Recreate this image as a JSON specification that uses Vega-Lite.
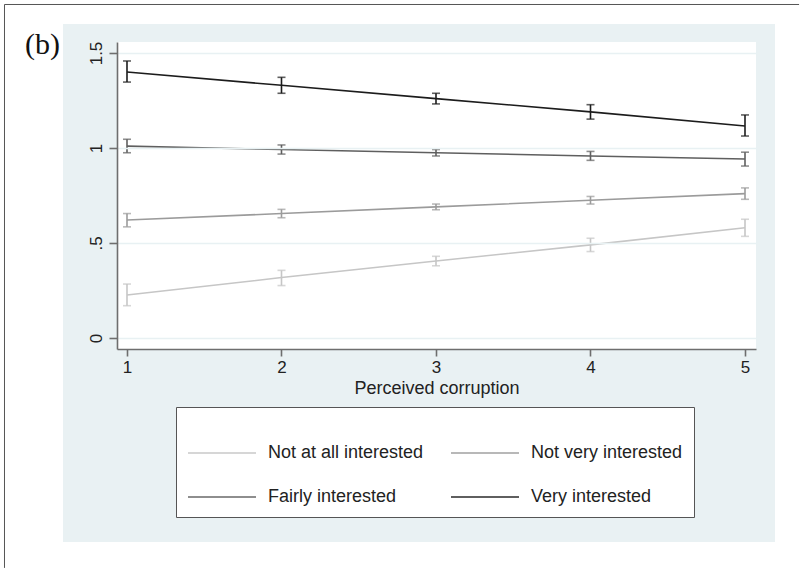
{
  "$schema": "https://vega.github.io/schema/vega-lite/v6.json",
  "width": 639,
  "height": 307,
  "autosize": {"type": "none"},
  "padding": {"left": 117, "top": 42, "right": 44, "bottom": 219},
  "background": "white",
  "title": {"text": "(b)", "font": "Liberation Serif", "fontSize": 30, "fontWeight": "normal", "anchor": "start", "frame": "group", "orient": "top", "offset": 0, "baseline": "alphabetic", "dx": -92, "dy": 80, "color": "#111111"},
  "config": {
    "view": {"stroke": null},
    "font": "Liberation Sans",
    "axis": {"domainColor": "#6e6e6e", "domainWidth": 1.6, "tickColor": "#6e6e6e", "tickWidth": 1.6, "labelFont": "Liberation Sans", "labelFontSize": 17, "labelColor": "#222222", "titleFont": "Liberation Sans", "titleFontSize": 18, "titleFontWeight": "normal", "titleColor": "#222222"},
    "axisX": {"grid": false, "tickSize": 7, "labelPadding": 3, "titlePadding": 4, "labelFlush": false},
    "axisY": {"grid": true, "gridColor": "#e8f1f3", "gridWidth": 1.5, "tickSize": 8, "labelAngle": -90, "labelAlign": "center", "labelBaseline": "bottom", "labelPadding": 4}
  },
  "data": {"values": [
    {"series": "Not at all interested", "x": 1, "y": 0.226, "lo": 0.170, "hi": 0.284},
    {"series": "Not at all interested", "x": 2, "y": 0.318, "lo": 0.276, "hi": 0.356},
    {"series": "Not at all interested", "x": 3, "y": 0.405, "lo": 0.380, "hi": 0.430},
    {"series": "Not at all interested", "x": 4, "y": 0.490, "lo": 0.455, "hi": 0.525},
    {"series": "Not at all interested", "x": 5, "y": 0.580, "lo": 0.535, "hi": 0.625},
    {"series": "Not very interested", "x": 1, "y": 0.621, "lo": 0.585, "hi": 0.655},
    {"series": "Not very interested", "x": 2, "y": 0.655, "lo": 0.633, "hi": 0.677},
    {"series": "Not very interested", "x": 3, "y": 0.690, "lo": 0.675, "hi": 0.705},
    {"series": "Not very interested", "x": 4, "y": 0.725, "lo": 0.705, "hi": 0.745},
    {"series": "Not very interested", "x": 5, "y": 0.760, "lo": 0.730, "hi": 0.790},
    {"series": "Fairly interested", "x": 1, "y": 1.010, "lo": 0.975, "hi": 1.046},
    {"series": "Fairly interested", "x": 2, "y": 0.992, "lo": 0.968, "hi": 1.016},
    {"series": "Fairly interested", "x": 3, "y": 0.975, "lo": 0.958, "hi": 0.992},
    {"series": "Fairly interested", "x": 4, "y": 0.958, "lo": 0.935, "hi": 0.982},
    {"series": "Fairly interested", "x": 5, "y": 0.942, "lo": 0.905, "hi": 0.978},
    {"series": "Very interested", "x": 1, "y": 1.400, "lo": 1.347, "hi": 1.458},
    {"series": "Very interested", "x": 2, "y": 1.330, "lo": 1.288, "hi": 1.372},
    {"series": "Very interested", "x": 3, "y": 1.260, "lo": 1.232, "hi": 1.288},
    {"series": "Very interested", "x": 4, "y": 1.190, "lo": 1.152, "hi": 1.228},
    {"series": "Very interested", "x": 5, "y": 1.116, "lo": 1.063, "hi": 1.174}
  ]},
  "layer": [
    {
      "data": {"values": [{}]},
      "mark": {"type": "rule", "stroke": "#555555", "strokeWidth": 1},
      "encoding": {
        "x": {"datum": 0.2071, "type": "quantitative"},
        "y": {"datum": 1.7553, "type": "quantitative"},
        "y2": {"datum": -1.21}
      }
    },
    {
      "data": {"values": [{}]},
      "mark": {"type": "rule", "stroke": "#555555", "strokeWidth": 1},
      "encoding": {
        "x": {"datum": 0.2071, "type": "quantitative"},
        "x2": {"datum": 5.35},
        "y": {"datum": 1.7553, "type": "quantitative"}
      }
    },
    {
      "data": {"values": [{}]},
      "mark": {"type": "rect", "fill": "#e9f1f3"},
      "encoding": {
        "x": {"datum": 0.5858, "type": "quantitative"},
        "x2": {"datum": 5.1942},
        "y": {"datum": 1.6526, "type": "quantitative"},
        "y2": {"datum": -1.0737}
      }
    },
    {
      "data": {"values": [{}]},
      "mark": {"type": "rect", "fill": "white"},
      "encoding": {
        "x": {"datum": 0.9353, "type": "quantitative"},
        "x2": {"datum": 5.0712},
        "y": {"datum": -0.0579, "type": "quantitative"},
        "y2": {"datum": 1.5579}
      }
    },
    {
      "mark": {"type": "line", "strokeWidth": 1.6},
      "encoding": {
        "x": {"field": "x", "type": "quantitative", "scale": {"domain": [0.9353, 5.0712], "nice": false, "zero": false}, "axis": {"title": "Perceived corruption", "values": [1, 2, 3, 4, 5], "format": "d", "zindex": 1}},
        "y": {"field": "y", "type": "quantitative", "scale": {"domain": [-0.0579, 1.5579], "nice": false, "zero": false}, "axis": {"title": null, "values": [0, 0.5, 1, 1.5], "labelExpr": "datum.value == 0.5 ? '.5' : toString(datum.value)", "zindex": 1}},
        "color": {"field": "series", "type": "nominal",
          "scale": {"domain": ["Not at all interested", "Not very interested", "Fairly interested", "Very interested"], "range": ["#c6c6c6", "#9b9b9b", "#5f5f5f", "#1c1c1c"]},
          "legend": {"orient": "none", "legendX": 59, "legendY": 365, "direction": "horizontal", "columns": 2, "title": null, "symbolType": "stroke", "symbolSize": 4624, "symbolStrokeWidth": 2, "symbolOpacity": 1, "labelFont": "Liberation Sans", "labelFontSize": 18, "labelOffset": 11, "labelLimit": 400, "labelColor": "#222222", "columnPadding": 23, "rowPadding": 0, "padding": 11, "strokeColor": "#555555", "fillColor": "white", "zindex": 1}}
      }
    },
    {
      "mark": {"type": "rule", "strokeWidth": 1.6},
      "encoding": {
        "x": {"field": "x", "type": "quantitative"},
        "y": {"field": "lo", "type": "quantitative"},
        "y2": {"field": "hi"},
        "color": {"field": "series", "type": "nominal"}
      }
    },
    {
      "mark": {"type": "tick", "orient": "horizontal", "size": 8, "thickness": 1.6},
      "encoding": {
        "x": {"field": "x", "type": "quantitative"},
        "y": {"field": "lo", "type": "quantitative"},
        "color": {"field": "series", "type": "nominal"}
      }
    },
    {
      "mark": {"type": "tick", "orient": "horizontal", "size": 8, "thickness": 1.6},
      "encoding": {
        "x": {"field": "x", "type": "quantitative"},
        "y": {"field": "hi", "type": "quantitative"},
        "color": {"field": "series", "type": "nominal"}
      }
    }
  ]
}
